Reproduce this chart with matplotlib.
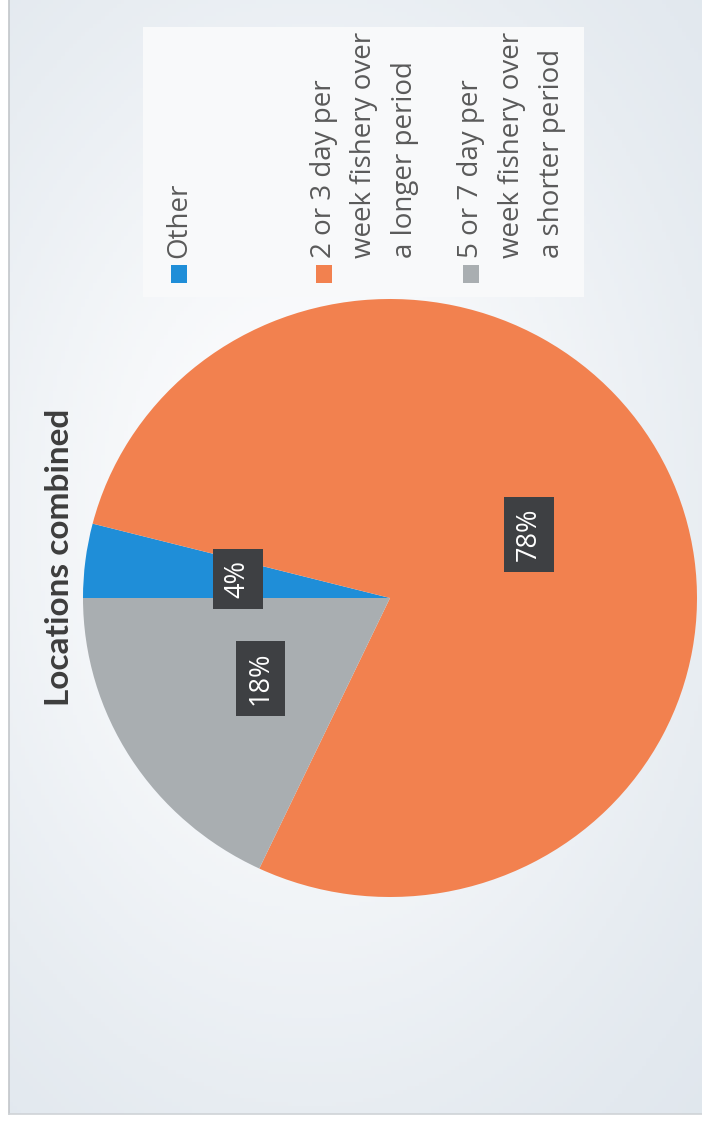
import numpy as np
import matplotlib
matplotlib.use("Agg")
import matplotlib.pyplot as plt
from matplotlib.patches import Rectangle

title = "Locations combined"
categories = [
    "Other",
    "2 or 3 day per\nweek fishery over\na longer period",
    "5 or 7 day per\nweek fishery over\na shorter period",
]
shares = [4, 78, 18]
colors = ["#1f8ed8", "#f2814f", "#a9aeb1"]

W, H = 702, 1123
fig = plt.figure(figsize=(W / 100, H / 100), dpi=100)
fig.patch.set_facecolor("white")

# page layer in pixel units, y pointing down
bg = fig.add_axes([0, 0, 1, 1])
bg.set_xlim(0, W)
bg.set_ylim(H, 0)
bg.axis("off")

# greyish sheet, lighter around the chart
yy, xx = np.mgrid[0:1114:4, 9:W:4]
glow = np.exp(-(((xx - 310) / 420.0) ** 2 + ((yy - 520) / 600.0) ** 2))
base = np.array([0.86, 0.89, 0.92])
light = np.array([0.99, 0.992, 0.995])
sheet = base + (light - base) * glow[..., None]
bg.imshow(sheet, extent=(9, W, 1114, 0), aspect="auto", zorder=0)
bg.plot([9, 9], [0, 1114], color="#c2c6ca", lw=1.2, zorder=1)
bg.plot([9, W], [1114, 1114], color="#cfd3d7", lw=1.2, zorder=1)

# legend panel
bg.add_patch(Rectangle((143, 27), 441, 270, facecolor="#f8f9fa",
                       edgecolor="none", zorder=1))

bg.text(60, 557, title, rotation=90, ha="center", va="center",
        fontsize=24, fontweight="bold", family="Lato", color="#3d3d3d",
        zorder=3)

# legend entries drawn sideways
entry_x = [179, 324, 471]
line_gap = 40.5
for x0, label, col in zip(entry_x, categories, colors):
    bg.add_patch(Rectangle((x0 - 8, 265), 16, 18, facecolor=col,
                           edgecolor="none", zorder=3))
    for k, line in enumerate(label.split("\n")):
        bg.text(x0 + k * line_gap, 258, line, rotation=90,
                rotation_mode="anchor", ha="left", va="center",
                fontsize=20, family="Open Sans", color="#5a5a5a", zorder=3)

# the pie itself
pax = fig.add_axes([(390 - 307) / W, 1 - (598 + 299) / H, 614 / W, 598 / H])
wedges, _, pct = pax.pie(
    shares, colors=colors, startangle=180, counterclock=False, radius=1,
    autopct=lambda p: f"{p:.0f}%", pctdistance=0.5,
    wedgeprops=dict(linewidth=0),
)
for t in pct:
    t.set_rotation(90)
    t.set_color("white")
    t.set_fontsize(19.5)
    t.set_family("Open Sans")
    t.set_bbox(dict(boxstyle="square,pad=0.4", facecolor="#3e4043",
                    edgecolor="none"))
pax.set_xlim(-1, 1)
pax.set_ylim(-1, 1)
pax.set_aspect("auto")
pax.axis("off")

fig.savefig("out.png", dpi=100)
